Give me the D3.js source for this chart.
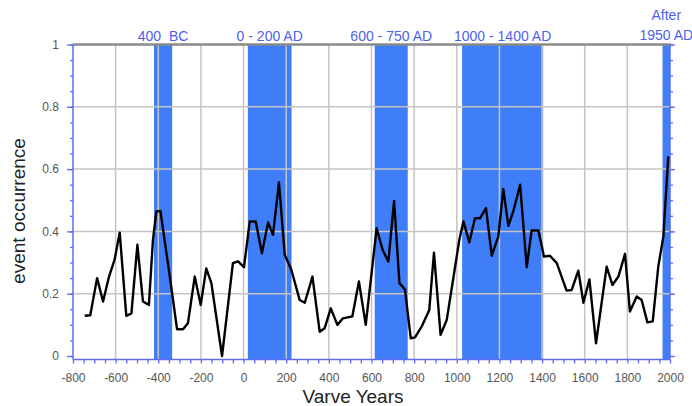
<!DOCTYPE html>
<html>
<head>
<meta charset="utf-8">
<script src="https://cdn.jsdelivr.net/npm/d3@7"></script>
<style>
  body { margin: 0; background: #fff; }
  text { font-family: "Liberation Sans", Arial, sans-serif; }
</style>
</head>
<body>
<script>
/* ------------------------------- chart data ------------------------------- */
const years = [-745, -719, -687, -659, -631, -605, -581, -550, -526, -498, -472, -444, -425, -409, -390,
  -347, -312, -284, -261, -229, -201, -175, -151, -101, -50, -26, 2, 29, 57, 86, 115, 138, 166, 193,
  224, 263, 287, 323, 357, 380, 409, 440, 466, 510, 541, 573, 624, 652, 679, 706, 731, 757, 784, 804,
  835, 871, 893, 924, 953, 1012, 1031, 1059, 1085, 1109, 1137, 1164, 1195, 1218, 1242, 1265, 1297,
  1328, 1351, 1383, 1409, 1437, 1469, 1515, 1539, 1570, 1594, 1622, 1653, 1703, 1730, 1758, 1789,
  1812, 1844, 1867, 1894, 1919, 1945, 1969, 1992]
const occurrence = [0.129, 0.131, 0.25, 0.175, 0.255, 0.309, 0.396, 0.129, 0.137, 0.357, 0.175, 0.164, 0.373, 0.464, 0.466,
  0.26, 0.086, 0.086, 0.105, 0.255, 0.164, 0.281, 0.234, 0.0, 0.298, 0.304, 0.285, 0.432, 0.432, 0.33, 0.429, 0.389, 0.557, 0.325,
  0.277, 0.18, 0.171, 0.255, 0.078, 0.089, 0.153, 0.1, 0.121, 0.127, 0.239, 0.1, 0.41, 0.341, 0.303, 0.498, 0.234, 0.214, 0.057, 0.06,
  0.094, 0.148, 0.332, 0.068, 0.116, 0.373, 0.432, 0.365, 0.442, 0.442, 0.475, 0.322, 0.384, 0.536, 0.418, 0.464, 0.55,
  0.285, 0.403, 0.403, 0.319, 0.322, 0.298, 0.21, 0.212, 0.274, 0.171, 0.246, 0.041, 0.287, 0.228, 0.255, 0.328,
  0.143, 0.191, 0.18, 0.108, 0.111, 0.287, 0.384, 0.641]

// highlighted periods
const bandStart = [-420, 20, 615, 1025, 1965]
const bandEnd = [-335, 225, 770, 1405, 2000]
const bandLabels = [["400  BC"], ["0 - 200 AD"], ["600 - 750 AD"], ["1000 - 1400 AD"], ["After", "1950 AD"]]

const xMajor = d3.range(-800, 2001, 200)
const xMinor = d3.range(-800, 2001, 50)
const yMajor = [0, 0.2, 0.4, 0.6, 0.8, 1]
const yMinor = d3.range(0, 1.001, 0.05)

/* -------------------------------- document -------------------------------- */
const width = 692, height = 406
const pLeft = 73, pRight = 670, pTop = 44.5, pBottom = 356, axisY = 359.5
const axisColor = "#5b6cf2", bandColor = "#3f7ef8", gridColor = "#c4c4c4"

const svg = d3.select("body").append("svg").attr("width", width).attr("height", height)

const x = d3.scaleLinear().domain([-800, 2000]).range([pLeft, pRight])
const y = d3.scaleLinear().domain([0, 1]).range([pBottom, pTop])

//blue bands
svg.append("g").selectAll("rect").data(bandStart).enter().append("rect")
    .attr("x", d => x(d))
    .attr("y", pTop)
    .attr("width", (d, i) => x(bandEnd[i]) - x(d))
    .attr("height", axisY - pTop)
    .attr("fill", bandColor)

//band labels
const lab = svg.append("g").selectAll("text").data(bandLabels).enter().append("text")
    .attr("text-anchor", "middle")
    .attr("font-size", 14)
    .attr("fill", "#4d5ff0")
    .attr("transform", (d, i) => `translate(${x((bandStart[i] + bandEnd[i]) / 2)},${d.length > 1 ? 20 : 41})`)
lab.selectAll("tspan").data(d => d).enter().append("tspan")
    .attr("x", 0)
    .attr("dy", (d, i) => i ? 20 : 0)
    .style("white-space", "pre")
    .text(d => d)

//grid lines
svg.append("g").selectAll("line").data(xMajor.slice(1, -1)).enter().append("line")
    .attr("x1", d => x(d)).attr("x2", d => x(d))
    .attr("y1", pTop).attr("y2", axisY)
    .attr("stroke", gridColor).attr("stroke-width", 1.5)
svg.append("g").selectAll("line").data(yMajor.slice(1, -1)).enter().append("line")
    .attr("x1", pLeft).attr("x2", pRight)
    .attr("y1", d => y(d)).attr("y2", d => y(d))
    .attr("stroke", gridColor).attr("stroke-width", 1.5)

//top frame line
svg.append("line")
    .attr("x1", pLeft).attr("x2", pRight + 1)
    .attr("y1", pTop).attr("y2", pTop)
    .attr("stroke", "#8a8a8a").attr("stroke-width", 2.5)

//axes
function styleAxis(g) {
    g.select(".domain").remove()
    g.selectAll(".tick line").attr("stroke", axisColor).attr("stroke-width", 1.3)
    g.selectAll(".tick text").attr("fill", "#555").attr("font-size", 12)
        .attr("font-family", "Liberation Sans, Arial, sans-serif")
}
svg.append("g").attr("transform", `translate(0,${axisY})`)
    .call(d3.axisBottom(x).tickValues(xMinor).tickSize(4).tickPadding(10)
        .tickFormat(d => d % 200 === 0 ? d : ""))
    .call(styleAxis)
svg.append("g").attr("transform", `translate(${pLeft},0)`)
    .call(d3.axisLeft(y).tickValues(yMinor).tickSize(3).tickFormat(""))
    .call(styleAxis)
svg.append("g").attr("transform", `translate(${pLeft},0)`)
    .call(d3.axisLeft(y).tickValues(yMajor).tickSize(6).tickPadding(8).tickFormat(d => +d.toFixed(1)))
    .call(styleAxis)
svg.append("g").attr("transform", `translate(${pRight},0)`)
    .call(d3.axisRight(y).tickValues(yMinor).tickSize(3).tickFormat(""))
    .call(styleAxis)
svg.append("g").attr("transform", `translate(${pRight},0)`)
    .call(d3.axisRight(y).tickValues(yMajor).tickSize(5).tickFormat(""))
    .call(styleAxis)

//axis lines
svg.append("line").attr("x1", pLeft).attr("x2", pRight).attr("y1", axisY).attr("y2", axisY)
    .attr("stroke", axisColor).attr("stroke-width", 1.5)
svg.append("line").attr("x1", pLeft).attr("x2", pLeft).attr("y1", pTop).attr("y2", axisY)
    .attr("stroke", axisColor).attr("stroke-width", 1.5)
svg.append("line").attr("x1", pRight).attr("x2", pRight).attr("y1", pTop).attr("y2", axisY)
    .attr("stroke", axisColor).attr("stroke-width", 1.5)

//data line
const line = d3.line().x(d => x(d[0])).y(d => y(d[1]))
svg.append("path")
    .datum(years.map((d, i) => [d, occurrence[i]]))
    .attr("d", line)
    .attr("fill", "none")
    .attr("stroke", "#000")
    .attr("stroke-width", 2.4)
    .attr("stroke-linejoin", "round")

//titles
svg.append("text")
    .attr("x", 353).attr("y", 403)
    .attr("text-anchor", "middle")
    .attr("font-size", 19)
    .attr("fill", "#222")
    .text("Varve Years")
svg.append("text")
    .attr("transform", "translate(25,211) rotate(-90)")
    .attr("text-anchor", "middle")
    .attr("font-size", 19)
    .attr("fill", "#222")
    .text("event occurrence")
</script>
</body>
</html>
